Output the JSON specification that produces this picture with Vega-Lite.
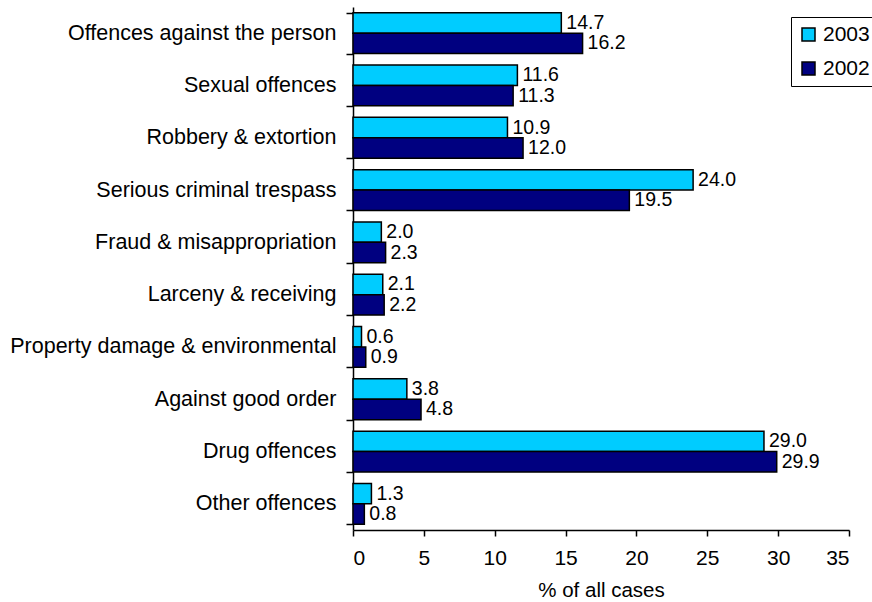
{
  "$schema": "https://vega.github.io/schema/vega-lite/v6.json",
  "width": 496,
  "height": 523,
  "autosize": {"type": "none"},
  "padding": {"left": 353, "top": 7, "right": 23, "bottom": 72},
  "background": "white",
  "config": {
    "view": {"stroke": null},
    "font": "Liberation Sans"
  },
  "data": {
    "values": [
      {"category": "Offences against the person", "year": "2003", "pct": 14.7},
      {"category": "Offences against the person", "year": "2002", "pct": 16.2},
      {"category": "Sexual offences", "year": "2003", "pct": 11.6},
      {"category": "Sexual offences", "year": "2002", "pct": 11.3},
      {"category": "Robbery & extortion", "year": "2003", "pct": 10.9},
      {"category": "Robbery & extortion", "year": "2002", "pct": 12.0},
      {"category": "Serious criminal trespass", "year": "2003", "pct": 24.0},
      {"category": "Serious criminal trespass", "year": "2002", "pct": 19.5},
      {"category": "Fraud & misappropriation", "year": "2003", "pct": 2.0},
      {"category": "Fraud & misappropriation", "year": "2002", "pct": 2.3},
      {"category": "Larceny & receiving", "year": "2003", "pct": 2.1},
      {"category": "Larceny & receiving", "year": "2002", "pct": 2.2},
      {"category": "Property damage & environmental", "year": "2003", "pct": 0.6},
      {"category": "Property damage & environmental", "year": "2002", "pct": 0.9},
      {"category": "Against good order", "year": "2003", "pct": 3.8},
      {"category": "Against good order", "year": "2002", "pct": 4.8},
      {"category": "Drug offences", "year": "2003", "pct": 29.0},
      {"category": "Drug offences", "year": "2002", "pct": 29.9},
      {"category": "Other offences", "year": "2003", "pct": 1.3},
      {"category": "Other offences", "year": "2002", "pct": 0.8}
    ]
  },
  "encoding": {
    "y": {
      "field": "category",
      "type": "nominal",
      "sort": null,
      "scale": {"paddingInner": 0.22, "paddingOuter": 0.11},
      "axis": {
        "title": null,
        "tickBand": "extent",
        "domainColor": "black",
        "domainWidth": 1.5,
        "tickColor": "black",
        "tickWidth": 1.5,
        "tickSize": 7,
        "labelFontSize": 21.5,
        "labelColor": "black",
        "labelLimit": 400,
        "labelPadding": 10
      }
    },
    "yOffset": {"field": "year", "type": "nominal", "sort": ["2003", "2002"]},
    "x": {
      "field": "pct",
      "type": "quantitative",
      "scale": {"domain": [0, 35], "nice": false},
      "axis": {
        "title": "% of all cases",
        "titleFontSize": 20.5,
        "titleFontWeight": "normal",
        "titleColor": "black",
        "titlePadding": 12,
        "values": [0, 5, 10, 15, 20, 25, 30, 35],
        "grid": false,
        "domainColor": "black",
        "domainWidth": 1.5,
        "tickColor": "black",
        "tickWidth": 1.5,
        "tickSize": 6,
        "labelFontSize": 21,
        "labelColor": "black",
        "labelPadding": 11
      }
    }
  },
  "layer": [
    {
      "mark": {"type": "bar", "stroke": "black", "strokeWidth": 1.5},
      "encoding": {
        "color": {
          "field": "year",
          "type": "nominal",
          "scale": {"domain": ["2003", "2002"], "range": ["#00CCFF", "#000080"]},
          "legend": {
            "title": null,
            "orient": "none",
            "legendX": 438,
            "legendY": 10,
            "strokeColor": "black",
            "fillColor": "white",
            "padding": 7,
            "labelFontSize": 21,
            "labelColor": "black",
            "symbolType": "square",
            "symbolSize": 169,
            "symbolStrokeColor": "black",
            "symbolStrokeWidth": 1.5,
            "symbolOpacity": 1,
            "rowPadding": 12,
            "labelOffset": 4
          }
        }
      }
    },
    {
      "mark": {"type": "text", "align": "left", "dx": 5, "fontSize": 19.5, "color": "black"},
      "encoding": {
        "text": {"field": "pct", "type": "quantitative", "format": ".1f"}
      }
    }
  ]
}
